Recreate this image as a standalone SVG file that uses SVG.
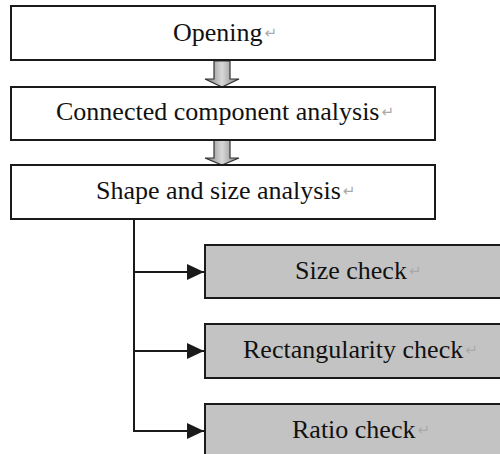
<svg xmlns="http://www.w3.org/2000/svg" width="500" height="454" viewBox="0 0 500 454">
<style>
.box{fill:#fff;stroke:#1a1a1a;stroke-width:2}
.chk{fill:#c3c3c3;stroke:#1a1a1a;stroke-width:2}
.t{font-family:"Liberation Serif","Times New Roman",serif;font-size:26px;fill:#111}
.pm{font-family:"DejaVu Sans",sans-serif;font-size:15px;fill:#aaa}
.ln{stroke:#1a1a1a;stroke-width:2;fill:none}
.blk{fill:url(#g);stroke:#333;stroke-width:1.2}
</style>
<defs>
<linearGradient id="g" x1="0" y1="0" x2="1" y2="0">
<stop offset="0" stop-color="#7a7a7a"/>
<stop offset="0.5" stop-color="#d8d8d8"/>
<stop offset="1" stop-color="#7a7a7a"/>
</linearGradient>
<marker id="ah" markerWidth="17" markerHeight="16" refX="17" refY="8" orient="auto" markerUnits="userSpaceOnUse" viewBox="0 0 17 16">
<path d="M0,0 L17,8 L0,16 Z" fill="#1a1a1a"/>
</marker>
</defs>
<g id="connectors">
<path class="blk" d="M214,61 H230 V79 H239 L222,87 L205,79 H214 Z"/>
<path class="blk" d="M214,140 H230 V158 H239 L222,165 L205,158 H214 Z"/>
<line class="ln" x1="134" y1="219" x2="134" y2="432"/>
<line class="ln" x1="133" y1="272" x2="204" y2="272" marker-end="url(#ah)"/>
<line class="ln" x1="133" y1="351" x2="204" y2="351" marker-end="url(#ah)"/>
<line class="ln" x1="133" y1="431" x2="204" y2="431" marker-end="url(#ah)"/>
</g>
<g id="opening">
<rect class="box" x="11" y="6" width="424" height="54"/>
<text class="t" x="173" y="41">Opening<tspan class="pm" dx="2" dy="-3">↵</tspan></text>
</g>
<g id="connected">
<rect class="box" x="11" y="87" width="424" height="53"/>
<text class="t" x="56" y="120">Connected component analysis<tspan class="pm" dx="2" dy="-3">↵</tspan></text>
</g>
<g id="shape">
<rect class="box" x="11" y="165" width="424" height="54"/>
<text class="t" x="96" y="199">Shape and size analysis<tspan class="pm" dx="2" dy="-3">↵</tspan></text>
</g>
<g id="size">
<rect class="chk" x="205" y="245" width="310" height="53"/>
<text class="t" x="295" y="279">Size check<tspan class="pm" dx="2" dy="-3">↵</tspan></text>
</g>
<g id="rect">
<rect class="chk" x="205" y="324" width="310" height="54"/>
<text class="t" x="243" y="358">Rectangularity check<tspan class="pm" dx="2" dy="-3">↵</tspan></text>
</g>
<g id="ratio">
<rect class="chk" x="205" y="404" width="310" height="60"/>
<text class="t" x="292" y="438">Ratio check<tspan class="pm" dx="2" dy="-3">↵</tspan></text>
</g>
</svg>
